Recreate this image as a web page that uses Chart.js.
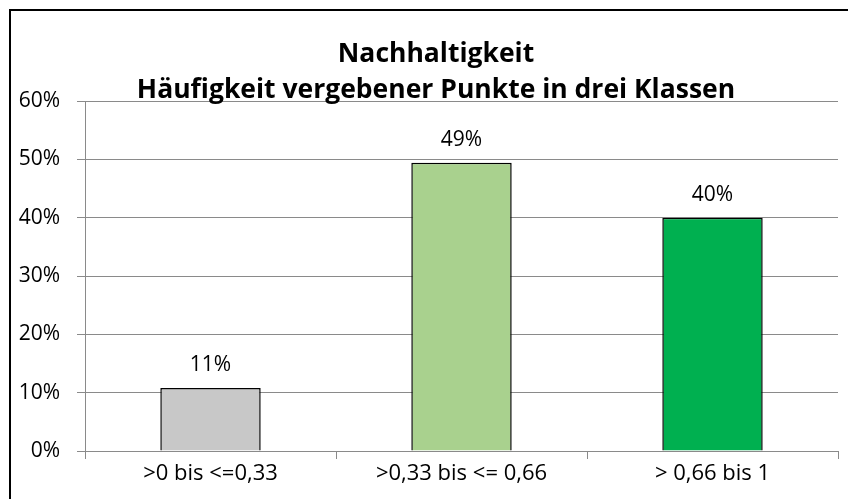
<!DOCTYPE html>
<html>
<head>
<meta charset="utf-8">
<script src="https://cdn.jsdelivr.net/npm/chart.js@4"></script>
<style>
  html, body { margin: 0; padding: 0; background: #fff; overflow: hidden; }
  #rahmen {
    position: absolute; left: 9px; top: 9px; width: 900px; height: 560px;
    border-left: 2px solid #000; border-top: 2px solid #000;
  }
  #wrap { position: absolute; left: 0; top: 0; width: 848px; height: 499px; }
</style>
</head>
<body>
<div id="rahmen"></div>
<div id="wrap"><canvas id="chart" width="848" height="499"></canvas></div>
<script>
// Daten
var klassen = ['>0 bis <=0,33', '>0,33 bis <= 0,66', '> 0,66 bis 1'];
var anteile = [10.8, 49.4, 40.0];
var farben = ['#c8c8c8', '#a9d18e', '#00b050'];
var titelZeilen = ['Nachhaltigkeit', 'Häufigkeit vergebener Punkte in drei Klassen'];
var yMax = 60;
var yStep = 10;

var gridFarbe = '#8a8a8a';
var schrift = '"Open Sans", sans-serif';

// Titel wie in Excel: sitzt leicht rechts der Mitte und ragt in den Plotbereich
var titel = {
    id: 'titel',
    afterDraw: function (chart) {
        var ctx = chart.ctx;
        ctx.save();
        ctx.font = 'bold 26.5px ' + schrift;
        ctx.fillStyle = '#000';
        ctx.textAlign = 'center';
        ctx.textBaseline = 'alphabetic';
        var x = chart.width / 2 + 12;
        ctx.fillText(titelZeilen[0], x, 62);
        ctx.fillText(titelZeilen[1], x, 98);
        ctx.restore();
    }
};

// Werte über den Balken schreiben
var wertLabels = {
    id: 'wertLabels',
    afterDatasetsDraw: function (chart) {
        var ctx = chart.ctx;
        var meta = chart.getDatasetMeta(0);
        ctx.save();
        ctx.font = '21px ' + schrift;
        ctx.fillStyle = '#000';
        ctx.textAlign = 'center';
        ctx.textBaseline = 'middle';
        meta.data.forEach(function (bar, i) {
            ctx.fillText(Math.round(anteile[i]) + '%', bar.x, bar.y - 23);
        });
        ctx.restore();
    }
};

var ctx = document.getElementById('chart').getContext('2d');
var chart = new Chart(ctx, {
    type: 'bar',
    data: {
        labels: klassen,
        datasets: [{
            data: anteile,
            backgroundColor: farben,
            borderColor: '#000',
            borderWidth: 1.5,
            barPercentage: 0.4,
            categoryPercentage: 1.0
        }]
    },
    options: {
        responsive: false,
        animation: false,
        layout: { padding: { left: 0, right: 10, top: 101, bottom: 0 } },
        plugins: {
            legend: { display: false },
            tooltip: { enabled: false },
            title: { display: false }
        },
        scales: {
            x: {
                afterFit: function (s) { s.height = 48; },
                grid: { drawOnChartArea: false, color: gridFarbe, tickLength: 8 },
                border: { color: gridFarbe },
                ticks: { color: '#000', font: { family: schrift, size: 22 }, padding: 2 }
            },
            y: {
                min: 0,
                max: yMax,
                afterFit: function (s) { s.width = 85; },
                grid: { color: gridFarbe, tickLength: 8 },
                border: { color: gridFarbe },
                ticks: {
                    stepSize: yStep,
                    color: '#000',
                    font: { family: schrift, size: 21 },
                    padding: 17,
                    callback: function (v) { return v + '%'; }
                }
            }
        }
    },
    plugins: [titel, wertLabels]
});
</script>
</body>
</html>
